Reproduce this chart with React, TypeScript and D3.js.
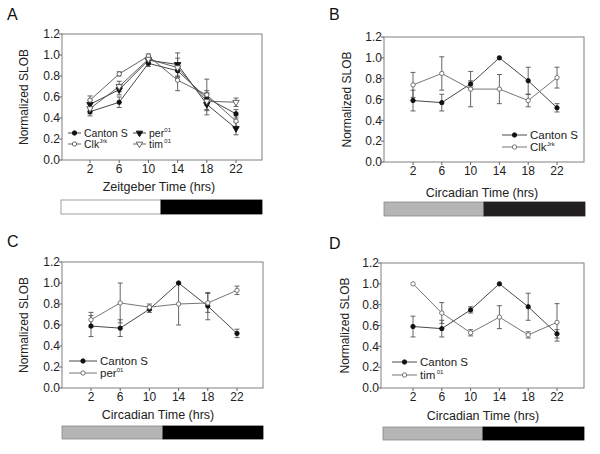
import React from "react";
import * as d3 from "d3";

const hours = [2, 6, 10, 14, 18, 22];
const xTicks = [2, 6, 10, 14, 18, 22];
const yTicks = [0, 0.2, 0.4, 0.6, 0.8, 1.0, 1.2];

// Panel A (Zeitgeber time)
const cantonA = [0.46, 0.55, 0.92, 0.85, 0.59, 0.44];
const cantonAErr = [0.04, 0.05, 0.03, 0.06, 0.07, 0.04];
const clkA = [0.57, 0.82, 0.99, 0.76, 0.62, 0.37];
const clkAErr = [0.04, 0.02, 0.02, 0.10, 0.15, 0.05];
const perA = [0.53, 0.67, 0.95, 0.91, 0.53, 0.30];
const perAErr = [0.04, 0.05, 0.03, 0.11, 0.10, 0.06];
const timA = [0.49, 0.70, 0.96, 0.88, 0.56, 0.55];
const timAErr = [0.05, 0.05, 0.03, 0.09, 0.08, 0.04];

// Canton S in constant darkness (B, C, D)
const cantonDD = [0.59, 0.57, 0.75, 1.0, 0.78, 0.52];
const cantonDDErr = [0.10, 0.08, 0.03, 0.0, 0.13, 0.04];
const clkB = [0.74, 0.85, 0.70, 0.70, 0.59, 0.81];
const clkBErr = [0.12, 0.16, 0.17, 0.14, 0.06, 0.10];
const perC = [0.65, 0.81, 0.77, 0.80, 0.81, 0.93];
const perCErr = [0.07, 0.19, 0.03, 0.20, 0.09, 0.04];
const timD = [1.0, 0.72, 0.53, 0.68, 0.51, 0.63];
const timDErr = [0.0, 0.10, 0.03, 0.11, 0.03, 0.18];

type Marker = "filledCircle" | "openCircle" | "filledTri" | "openTri";
interface Series { name: string; sup?: string; values: number[]; errs: number[]; marker: Marker; color: string; }

const FONT = "'Liberation Sans', Arial, Helvetica, sans-serif";

interface PanelGeo {
  letter: string; lx: number; ly: number;
  left: number; right: number; top: number; bottom: number;
  x2: number; x22: number;
  xLabel: string; xLabelX: number; xLabelY: number;
  yLabelX: number;
  barTop: number; barBottom: number; barLeft: number; barRight: number; barSplit: number;
  barColors: [string, string];
  series: Series[];
  legend: { x: number; y: number; cols: number; lineLen: number; colW: number; rowH: number; font: number };
}

const markerPath = (m: Marker) => {
  if (m === "filledTri" || m === "openTri") return d3.symbol().type(d3.symbolTriangle).size(18)()!;
  return d3.symbol().type(d3.symbolCircle).size(15)()!;
};

function MarkerShape({ m, x, y, color }: { m: Marker; x: number; y: number; color: string }) {
  const filled = m === "filledCircle" || m === "filledTri";
  const rot = m === "filledTri" || m === "openTri" ? 180 : 0;
  return (
    <path d={markerPath(m)} transform={`translate(${x},${y}) rotate(${rot})`}
      fill={filled ? "#111" : "#fff"} stroke={filled ? "#111" : color} strokeWidth={0.9} />
  );
}

function Panel({ g }: { g: PanelGeo }) {
  const x = d3.scaleLinear().domain([2, 22]).range([g.x2, g.x22]);
  const y = d3.scaleLinear().domain([0, 1.2]).range([g.bottom, g.top]);
  const line = d3.line<number>().x((_, i) => x(hours[i])).y((v) => y(v));
  const lf = g.legend.font;
  return (
    <g fontFamily={FONT}>
      <text x={g.lx} y={g.ly} fontSize={16} fill="#111">{g.letter}</text>
      <rect x={g.left} y={g.top} width={g.right - g.left} height={g.bottom - g.top} fill="none" stroke="#8a8a8a" strokeWidth={1.1} />
      {yTicks.map((t) => (
        <g key={t}>
          <line x1={g.left - 3} x2={g.left} y1={y(t)} y2={y(t)} stroke="#666" />
          <text x={g.left - 2} y={y(t) + 4.2} textAnchor="end" fontSize={12} fill="#222">{t.toFixed(1)}</text>
        </g>
      ))}
      {xTicks.map((t) => (
        <g key={t}>
          <line x1={x(t)} x2={x(t)} y1={g.bottom} y2={g.bottom + 3} stroke="#666" />
          <text x={x(t)} y={g.bottom + 13} textAnchor="middle" fontSize={12} fill="#222">{t}</text>
        </g>
      ))}
      <text x={g.xLabelX} y={g.xLabelY} textAnchor="middle" fontSize={12.5} fill="#222">{g.xLabel}</text>
      <text transform={`translate(${g.yLabelX},${(g.top + g.bottom) / 2}) rotate(-90)`} textAnchor="middle" fontSize={12} fill="#222">Normalized SLOB</text>
      {g.series.map((s, si) => (
        <g key={si}>
          <path d={line(s.values)!} fill="none" stroke={s.color} strokeWidth={0.9} />
          {s.values.map((v, i) => s.errs[i] > 0 ? (
            <g key={i} stroke="#555" strokeWidth={0.9}>
              <line x1={x(hours[i])} x2={x(hours[i])} y1={y(v - s.errs[i])} y2={y(v + s.errs[i])} />
              <line x1={x(hours[i]) - 2.5} x2={x(hours[i]) + 2.5} y1={y(v - s.errs[i])} y2={y(v - s.errs[i])} />
              <line x1={x(hours[i]) - 2.5} x2={x(hours[i]) + 2.5} y1={y(v + s.errs[i])} y2={y(v + s.errs[i])} />
            </g>
          ) : null)}
        </g>
      ))}
      {g.series.map((s, si) => (
        <g key={si}>
          {s.values.map((v, i) => <MarkerShape key={i} m={s.marker} x={x(hours[i])} y={y(v)} color={s.color} />)}
        </g>
      ))}
      {g.series.map((s, si) => {
        const col = si % g.legend.cols;
        const row = Math.floor(si / g.legend.cols);
        const lx = g.legend.x + col * g.legend.colW;
        const ly = g.legend.y + row * g.legend.rowH;
        const tx = lx + g.legend.lineLen + 3;
        const nameW = s.name.length * lf * 0.47;
        return (
          <g key={si}>
            <line x1={lx} x2={lx + g.legend.lineLen} y1={ly} y2={ly} stroke={s.color} strokeWidth={0.9} />
            <MarkerShape m={s.marker} x={lx + g.legend.lineLen / 2} y={ly} color={s.color} />
            <text x={tx} y={ly + lf * 0.36} fontSize={lf} fill="#222">{s.name}</text>
            {s.sup ? <text x={tx + nameW + 0.5} y={ly - 1.5} fontSize={6} fill="#222">{s.sup}</text> : null}
          </g>
        );
      })}
      <rect x={g.barLeft} y={g.barTop} width={g.barSplit - g.barLeft} height={g.barBottom - g.barTop} fill={g.barColors[0]} stroke="#888" strokeWidth={0.8} />
      <rect x={g.barSplit} y={g.barTop} width={g.barRight - g.barSplit} height={g.barBottom - g.barTop} fill={g.barColors[1]} stroke={g.barColors[1]} strokeWidth={0.8} />
    </g>
  );
}

const cantonSeries = (v: number[], e: number[]): Series => ({ name: "Canton S", values: v, errs: e, marker: "filledCircle", color: "#333" });

const panels: PanelGeo[] = [
  {
    letter: "A", lx: 7, ly: 20, left: 62, right: 262, top: 34, bottom: 160, x2: 90, x22: 236,
    xLabel: "Zeitgeber Time (hrs)", xLabelX: 159, xLabelY: 191, yLabelX: 28,
    barTop: 200, barBottom: 214, barLeft: 61, barRight: 262, barSplit: 161, barColors: ["#fff", "#000"],
    series: [
      cantonSeries(cantonA, cantonAErr),
      { name: "per", sup: "01", values: perA, errs: perAErr, marker: "filledTri", color: "#333" },
      { name: "Clk", sup: "Jrk", values: clkA, errs: clkAErr, marker: "openCircle", color: "#555" },
      { name: "tim", sup: "01", values: timA, errs: timAErr, marker: "openTri", color: "#555" },
    ],
    legend: { x: 68, y: 133, cols: 2, lineLen: 13, colW: 65, rowH: 11, font: 10.5 },
  },
  {
    letter: "B", lx: 329, ly: 20, left: 384, right: 584, top: 37, bottom: 162, x2: 413, x22: 557,
    xLabel: "Circadian Time (hrs)", xLabelX: 482, xLabelY: 197, yLabelX: 351,
    barTop: 202, barBottom: 216, barLeft: 384, barRight: 585, barSplit: 484, barColors: ["#b5b5b5", "#231f20"],
    series: [
      cantonSeries(cantonDD, cantonDDErr),
      { name: "Clk", sup: "Jrk", values: clkB, errs: clkBErr, marker: "openCircle", color: "#666" },
    ],
    legend: { x: 502, y: 135, cols: 1, lineLen: 25, colW: 0, rowH: 12, font: 11.5 },
  },
  {
    letter: "C", lx: 7, ly: 247, left: 62, right: 263, top: 262, bottom: 388, x2: 91, x22: 237,
    xLabel: "Circadian Time (hrs)", xLabelX: 158, xLabelY: 419, yLabelX: 28,
    barTop: 426, barBottom: 439, barLeft: 62, barRight: 263, barSplit: 163, barColors: ["#b5b5b5", "#000"],
    series: [
      cantonSeries(cantonDD, cantonDDErr),
      { name: "per", sup: "01", values: perC, errs: perCErr, marker: "openCircle", color: "#666" },
    ],
    legend: { x: 69, y: 361, cols: 1, lineLen: 28, colW: 0, rowH: 12, font: 11.5 },
  },
  {
    letter: "D", lx: 329, ly: 249, left: 381, right: 584, top: 263, bottom: 388, x2: 413, x22: 557,
    xLabel: "Circadian Time (hrs)", xLabelX: 483, xLabelY: 420, yLabelX: 349,
    barTop: 427, barBottom: 440, barLeft: 383, barRight: 584, barSplit: 483, barColors: ["#b5b5b5", "#000"],
    series: [
      cantonSeries(cantonDD, cantonDDErr),
      { name: "tim", sup: "01", values: timD, errs: timDErr, marker: "openCircle", color: "#666" },
    ],
    legend: { x: 392, y: 362, cols: 1, lineLen: 25, colW: 0, rowH: 13, font: 11.5 },
  },
];

export default function App() {
  return (
    <svg width={600} height={454} style={{ position: "absolute", left: 0, top: 0, background: "#fff" }}>
      <rect width={600} height={454} fill="#fff" />
      {panels.map((p) => <Panel key={p.letter} g={p} />)}
    </svg>
  );
}
